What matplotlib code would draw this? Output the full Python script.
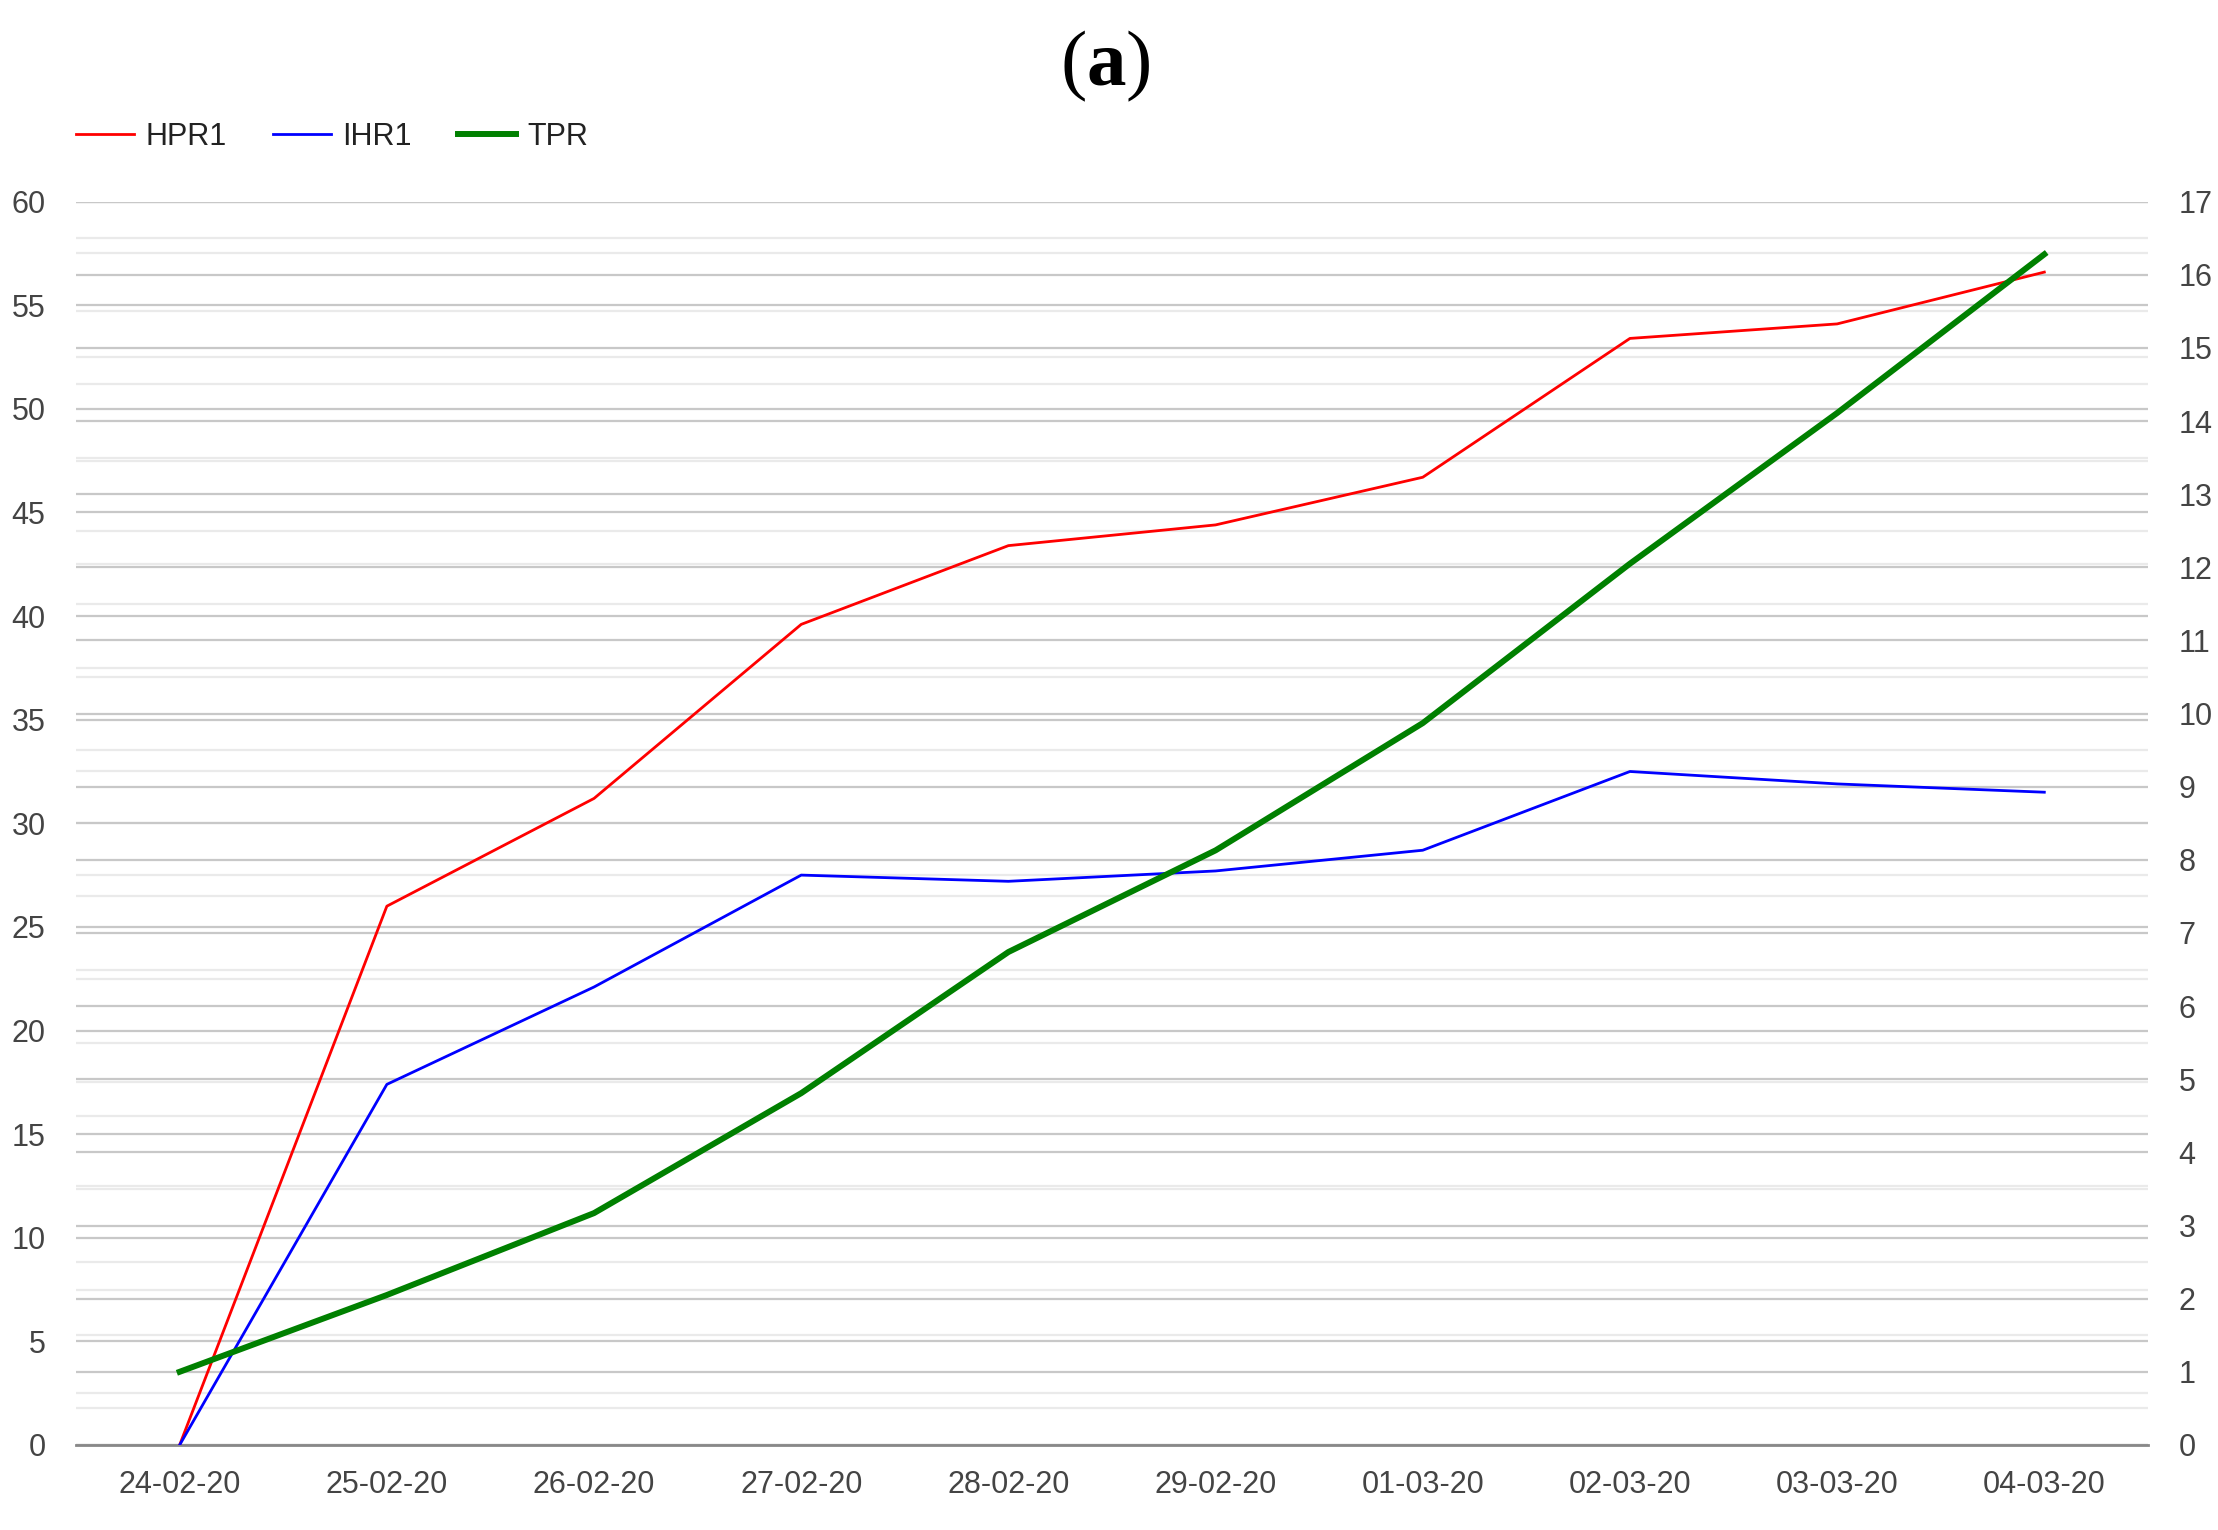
import numpy as np
import matplotlib
matplotlib.use("Agg")
import matplotlib.pyplot as plt

# Chart Data
dates = ["24-02-20", "25-02-20", "26-02-20", "27-02-20", "28-02-20",
         "29-02-20", "01-03-20", "02-03-20", "03-03-20", "04-03-20"]
hpr1 = [0, 26.0, 31.2, 39.6, 43.4, 44.4, 46.7, 53.4, 54.1, 56.6]
ihr1 = [0, 17.4, 22.1, 27.5, 27.2, 27.7, 28.7, 32.5, 31.9, 31.5]
tpr = [1.0, 2.05, 3.17, 4.81, 6.74, 8.13, 9.87, 12.05, 14.11, 16.28]

left_ticks = list(range(0, 61, 5))
right_ticks = list(range(0, 18))

plt.rcParams['font.family'] = ['Liberation Sans', 'DejaVu Sans']
plt.rcParams['mathtext.fontset'] = 'custom'
plt.rcParams['mathtext.rm'] = 'Liberation Serif'
plt.rcParams['mathtext.bf'] = 'Liberation Serif:bold'

fig = plt.figure(figsize=(22.18, 15.30), dpi=100)
ax = fig.add_axes([0.0343, 0.0556, 0.9341, 0.8126])
ax2 = ax.twinx()

# Right axis sits underneath so its grid stays behind every line
ax.set_zorder(2)
ax2.set_zorder(1)
ax.patch.set_visible(False)

x = np.arange(len(dates))

# Left Axis Grid
ax.set_ylim(0, 60)
ax.set_yticks(left_ticks)
ax.set_yticks(np.arange(0, 60, 2.5), minor=True)
ax.grid(axis='y', which='major', color='#c8c8c8', lw=1.6)
ax.grid(axis='y', which='minor', color='#eaeaea', lw=1.6)

# Right Axis Grid
ax2.set_ylim(0, 17)
ax2.set_yticks(right_ticks)
ax2.set_yticks(np.arange(0, 17, 0.5), minor=True)
ax2.grid(axis='y', which='major', color='#c8c8c8', lw=1.6)
ax2.grid(axis='y', which='minor', color='#eaeaea', lw=1.6)

# Lines
ax.plot(x, hpr1, color='#ff0000', lw=2.0, label='HPR1', zorder=3)
ax.plot(x, ihr1, color='#0000ff', lw=2.0, label='IHR1', zorder=3)
ax.plot(x, tpr, color='#008000', lw=4.3, label='TPR', zorder=4,
        transform=ax2.transData)

ax.set_xlim(-0.5, len(dates) - 0.5)
ax.set_xticks(x)
ax.set_xticklabels(dates)

for a in (ax, ax2):
    for s in a.spines.values():
        s.set_visible(False)
    a.tick_params(which='both', length=0, labelsize=22, labelcolor='#444444')
ax.spines['bottom'].set_visible(True)
ax.spines['bottom'].set_color('#888888')
ax.spines['bottom'].set_linewidth(2.0)
ax.tick_params(axis='y', pad=22)
ax.tick_params(axis='x', pad=18)
ax2.tick_params(axis='y', pad=22)

# Legend
ax.legend(loc='center left', bbox_to_anchor=(0.0343, 0.9105),
          bbox_transform=fig.transFigure, ncol=3, frameon=False,
          fontsize=22, handlelength=1.9, handletextpad=0.38,
          columnspacing=1.5, borderpad=0, borderaxespad=0,
          labelcolor='#222222')

# Title
fig.text(0.4985, 0.9565, r'$\mathrm{(}\mathbf{a}\mathrm{)}$', fontsize=57,
         ha='center', va='center', color='black')

fig.savefig("out.png", dpi=100, facecolor='white')
